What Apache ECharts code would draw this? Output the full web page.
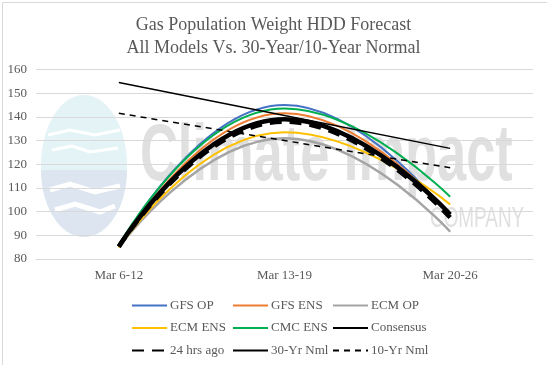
<!DOCTYPE html>
<html>
<head>
<meta charset="utf-8">
<script src="https://cdn.jsdelivr.net/npm/echarts@6/dist/echarts.min.js"></script>
<style>
html,body{margin:0;padding:0;background:#fff;}
#c{width:547px;height:365px;}
</style>
</head>
<body>
<div id="c"></div>
<script>
var categories = ['Mar 6-12', 'Mar 13-19', 'Mar 20-26'];
var gfsOp    = [85.5, 145.0, 98.0];
var gfsEns   = [85.3, 141.5, 99.0];
var ecmOp    = [85.0, 131.0, 91.5];
var ecmEns   = [84.8, 133.5, 103.0];
var cmcEns   = [85.8, 143.5, 106.3];
var consensus= [85.3, 139.0, 98.8];
var hrs24    = [85.2, 138.0, 97.5];
var nml30    = [154.5, 140.6, 126.7];
var nml10    = [141.5, 130.0, 118.5];
var yTicks = {min: 80, max: 160, interval: 10};

var serif = 'Liberation Serif';
var txt = '#595959';

function ln(name, data, color, width, type, smooth) {
  return {
    name: name, type: 'line', data: data, smooth: smooth,
    symbol: 'none', showSymbol: false, animation: false,
    lineStyle: {color: color, width: width, type: type || 'solid', cap: 'butt'},
    itemStyle: {color: color}
  };
}

var cx = 84, cy = 166, rx = 43, ry = 71;
var lower = [];
for (var i = 0; i <= 30; i++) {
  var a = Math.PI * i / 30;
  lower.push([cx + rx * Math.cos(a), cy + 4 + (ry - 4) * Math.sin(a)]);
}

var legText = {fontFamily: serif, fontSize: 13, color: txt, padding: [0,0,0,-2]};
function leg(left, data) {
  return {orient: 'vertical', left: left, top: 294, itemWidth: 35, itemHeight: 14, itemGap: 9.5,
    data: data, textStyle: legText, itemStyle: {opacity: 0}};
}

var chart = echarts.init(document.getElementById('c'), null, {renderer: 'canvas'});
chart.setOption({
  animation: false,
  backgroundColor: '#fff',
  title: {
    text: 'Gas Population Weight HDD Forecast\nAll Models Vs. 30-Year/10-Year Normal',
    left: 'center', top: 9,
    textStyle: {fontFamily: serif, fontSize: 18, fontWeight: 'normal', color: txt, lineHeight: 23}
  },
  graphic: [
    {type: 'rect', left: 0, top: 0, shape: {width: 546, height: 364}, style: {fill: 'none', stroke: '#d9d9d9', lineWidth: 1}, z: -20, silent: true},
    {type: 'ellipse', shape: {cx: cx, cy: cy, rx: rx, ry: ry}, style: {fill: '#e3f3f6'}, z: -10, silent: true},
    {type: 'polygon', shape: {points: lower}, style: {fill: '#dde6f0'}, z: -9, silent: true},
    {type: 'polyline', shape: {points: [[50,190],[70,184],[95,192],[120,186]]}, style: {stroke: '#fff', lineWidth: 5, fill: 'none'}, z: -8, silent: true},
    {type: 'polyline', shape: {points: [[55,210],[75,204],[100,212],[115,206]]}, style: {stroke: '#fff', lineWidth: 5, fill: 'none'}, z: -8, silent: true},
    {type: 'polyline', shape: {points: [[48,135],[70,130],[95,135],[120,130]]}, style: {stroke: '#fff', lineWidth: 3, fill: 'none'}, z: -8, silent: true},
    {type: 'polyline', shape: {points: [[52,150],[72,146],[90,152],[118,148]]}, style: {stroke: '#fff', lineWidth: 3, fill: 'none'}, z: -8, silent: true},
    {type: 'text', x: 140, y: 118, scaleX: 0.655, style: {text: 'Climate Impact', font: 'bold 80px "Liberation Sans"', fill: '#e0e0e0'}, z: -8, silent: true},
    {type: 'text', x: 430, y: 204, scaleX: 0.63, style: {text: 'COMPANY', font: '30px "Liberation Sans"', fill: '#e0e0e0'}, z: -8, silent: true}
  ],
  grid: {left: 36, right: 14, top: 69.5, bottom: 106, containLabel: false},
  legend: [
    leg(126, ['GFS OP', 'ECM ENS', '24 hrs ago']),
    leg(227, ['GFS ENS', 'CMC ENS', '30-Yr Nml']),
    leg(327, ['ECM OP', 'Consensus', '10-Yr Nml'])
  ],
  xAxis: {
    type: 'category', data: categories, boundaryGap: true,
    axisLine: {show: true, lineStyle: {color: '#d9d9d9'}},
    axisTick: {show: false},
    axisLabel: {fontFamily: serif, fontSize: 13, color: txt, margin: 10}
  },
  yAxis: {
    type: 'value', min: yTicks.min, max: yTicks.max, interval: yTicks.interval,
    axisLine: {show: false}, axisTick: {show: false},
    splitLine: {lineStyle: {color: '#d9d9d9', width: 1}},
    axisLabel: {fontFamily: serif, fontSize: 13, color: txt, margin: 9}
  },
  series: [
    ln('GFS OP', gfsOp, '#4472C4', 2, 'solid', 0.5),
    ln('GFS ENS', gfsEns, '#ED7D31', 2, 'solid', 0.5),
    ln('ECM OP', ecmOp, '#A5A5A5', 2.5, 'solid', 0.5),
    ln('ECM ENS', ecmEns, '#FFC000', 2, 'solid', 0.5),
    ln('CMC ENS', cmcEns, '#00B050', 2, 'solid', 0.5),
    ln('Consensus', consensus, '#000000', 4.5, 'solid', 0.5),
    ln('24 hrs ago', hrs24, '#000000', 4.5, [12, 8], 0.5),
    ln('30-Yr Nml', nml30, '#000000', 1.5, 'solid', false),
    ln('10-Yr Nml', nml10, '#000000', 1.5, [6, 5], false)
  ]
});
</script>
</body>
</html>
